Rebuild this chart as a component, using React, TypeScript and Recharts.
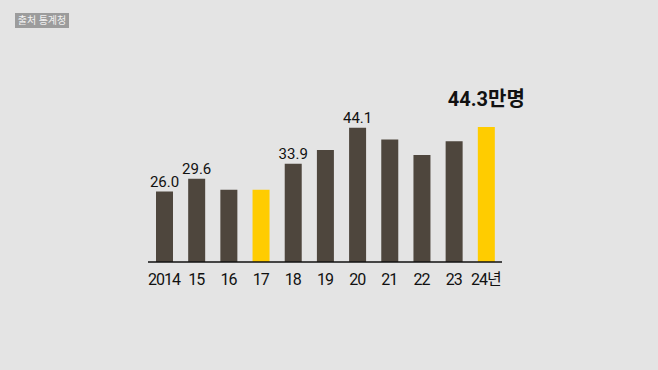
import { BarChart, Bar, XAxis, YAxis, Cell, LabelList } from "recharts"

const years = ["2014", "15", "16", "17", "18", "19", "20", "21", "22", "23", "24년"]
const values = [26.0, 29.6, 26.5, 26.5, 33.9, 37.8, 44.1, 40.8, 36.4, 40.3, 44.3]
const highlighted = [false, false, false, true, false, false, false, false, false, false, true]
const valueLabels = ["26.0", "29.6", "", "", "33.9", "", "44.1", "", "", "", "44.3만명"]

const data = years.map((year, i) => ({ year, value: values[i], hl: highlighted[i], label: valueLabels[i] }))

const DARK = "#4e463d"
const YELLOW = "#ffcc00"
const FONT = "Roboto, 'Noto Sans CJK KR', sans-serif"

function YearTick(props: any) {
  const { x, y, payload } = props
  return (
    <text x={x} y={y + 15} textAnchor="middle" fontSize={16} letterSpacing={-1} fill="#111" fontFamily={FONT}>
      {payload.value}
    </text>
  )
}

// the last label (highlight) sits higher above its bar than the others
function ValueLabel(props: any) {
  const { x, y, width, index } = props
  const text = valueLabels[index]
  if (!text) return null
  const last = index === valueLabels.length - 1
  return (
    <text
      x={x + width / 2}
      y={last ? y - 21 : y - 5}
      textAnchor="middle"
      fontSize={last ? 20 : 15}
      fontWeight={last ? 700 : 400}
      fill="#111"
      fontFamily={FONT}
    >
      {text}
    </text>
  )
}

export default function App() {
  return (
    <div style={{ position: "absolute", top: 0, left: 0, width: 658, height: 370, background: "#e4e4e4", overflow: "hidden" }}>
      <div
        style={{
          position: "absolute",
          top: 13,
          left: 15,
          width: 54,
          height: 15,
          background: "#9c9c9c",
          color: "#f2f2f2",
          fontSize: 10,
          lineHeight: "15px",
          textAlign: "center",
          fontFamily: FONT,
        }}
      >
        출처 통계청
      </div>
      <BarChart width={658} height={370} data={data} margin={{ top: 107, right: 156, bottom: 78, left: 148 }}>
        <XAxis
          dataKey="year"
          height={30}
          tickLine={false}
          axisLine={{ stroke: "#111", strokeWidth: 1.5 }}
          tick={<YearTick />}
          interval={0}
        />
        <YAxis hide domain={[6, 50]} />
        <Bar dataKey="value" barSize={17} isAnimationActive={false}>
          {data.map((d, i) => (
            <Cell key={i} fill={d.hl ? YELLOW : DARK} />
          ))}
          <LabelList dataKey="label" content={<ValueLabel />} />
        </Bar>
      </BarChart>
    </div>
  )
}
